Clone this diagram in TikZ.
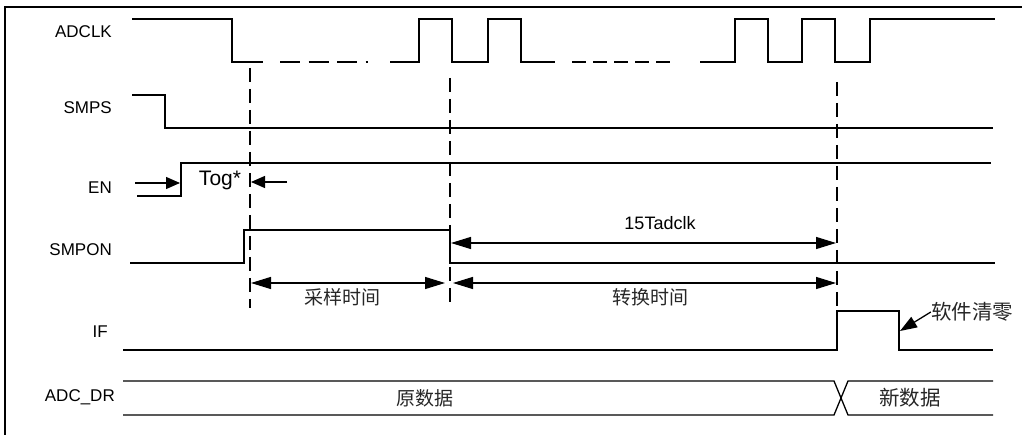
\documentclass[tikz,border=0pt]{standalone}
\usepackage{fontspec}
\setmainfont{Liberation Sans}
\newfontfamily\cjk{Noto Sans CJK SC}
\usetikzlibrary{arrows.meta}
\begin{document}
\begin{tikzpicture}[x=1pt,y=-1pt,
  sig/.style={line width=1.3pt, line join=miter},
  guide/.style={line width=1.3pt, dash pattern=on 14pt off 7pt},
  lbl/.style={anchor=east, inner sep=0pt, font=\fontsize{17}{20}\selectfont},
  cn/.style={inner sep=0pt, font=\cjk\fontsize{19}{22}\selectfont, text=black!85},
  dimarrow/.style={line width=1.3pt, {Triangle[length=20pt,width=12pt]}-{Triangle[length=20pt,width=12pt]}},
  smallarrow/.style={line width=1.3pt, -{Triangle[length=14pt,width=12pt]}}]
\useasboundingbox (0,0) rectangle (1022,435);
% frame
\draw[line width=2pt] (5,436) -- (5,7) -- (1023,7);
% labels
\node[lbl] (lclk) at (112,32) {ADCLK};
\node[lbl] (lsmps) at (112,108) {SMPS};
\node[lbl] (len) at (112,188) {EN};
\node[lbl] (lsmpon) at (112,250) {SMPON};
\node[lbl] (lif) at (108,332) {IF};
\node[lbl] (ldr) at (115,397) {ADC\_DR};
% ADCLK
\draw[sig] (132,19) -- (232,19) -- (232,62) -- (263,62);
\draw[sig, dash pattern=on 20pt off 8.5pt] (280,62) -- (368,62);
\draw[sig] (390,62) -- (419,62) -- (419,19) -- (452,19) -- (452,62) -- (488,62) -- (488,19) -- (521,19) -- (521,62) -- (555,62);
\draw[sig, dash pattern=on 14pt off 7pt] (572,62) -- (670,62);
\draw[sig] (700,62) -- (735,62) -- (735,19) -- (768,19) -- (768,62) -- (802,62) -- (802,19) -- (835,19) -- (835,62) -- (870,62) -- (870,19) -- (995,19);
% SMPS
\draw[sig] (132,95) -- (165,95) -- (165,128) -- (993,128);
% EN
\draw[sig] (137,196) -- (181,196) -- (181,163) -- (991,163);
% SMPON
\draw[sig] (130,263) -- (244,263) -- (244,230) -- (450,230) -- (450,263) -- (995,263);
% IF
\draw[sig] (123,350) -- (837,350) -- (837,311) -- (899,311) -- (899,350) -- (993,350);
% ADC_DR
\draw[sig] (123,381) -- (834,381) -- (848,415) -- (993,415);
\draw[sig] (123,415) -- (834,415) -- (848,381) -- (993,381);
% guide lines
\coordinate (g1t) at (250,68);  \coordinate (g1b) at (250,308);
\coordinate (g2t) at (450,78);  \coordinate (g2b) at (450,308);
\coordinate (g3t) at (837,82);  \coordinate (g3b) at (837,311);
\draw[guide] (g1t) -- (g1b);
\draw[guide] (g2t) -- (g2b);
\draw[guide] (g3t) -- (g3b);
% EN / Tog*
\node[inner sep=0pt, font=\fontsize{21}{24}\selectfont] (tog) at (220,180) {Tog*};
\coordinate (ena) at (135,183); \coordinate (enb) at (180,183);
\coordinate (toga) at (287,182); \coordinate (togb) at (251,182);
\draw[smallarrow] (ena) -- (enb);
\draw[smallarrow] (toga) -- (togb);
% 15Tadclk
\node[inner sep=0pt, font=\fontsize{18}{21}\selectfont] (t15) at (660,223) {15Tadclk};
\coordinate (t15a) at (451,243); \coordinate (t15b) at (836,243);
\draw[dimarrow] (t15a) -- (t15b);
% sampling / conversion
\coordinate (sa) at (251,283); \coordinate (sb) at (445,283);
\coordinate (ca) at (453,283); \coordinate (cb) at (836,283);
\draw[dimarrow] (sa) -- (sb);
\draw[dimarrow] (ca) -- (cb);
\node[cn] (samp) at (342,297) {采样时间};
\node[cn] (conv) at (650,297) {转换时间};
% software clear
\node[cn, font=\cjk\fontsize{20.5}{24}\selectfont] (clr) at (972,312) {软件清零};
\coordinate (clrtip) at (900,331);
\draw[line width=1.3pt, -{Triangle[length=17pt,width=12pt]}] (clr.west) -- (clrtip);
% data
\node[cn] (old) at (425,398) {原数据};
\node[cn, font=\cjk\fontsize{20.5}{24}\selectfont] (new) at (910,398) {新数据};
\end{tikzpicture}
\end{document}
